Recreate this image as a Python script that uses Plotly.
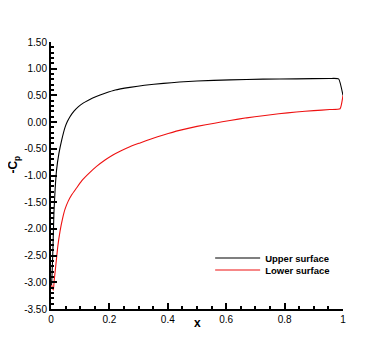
# %% ---- Requirements and constants
import plotly.graph_objects as go

# upper surface (black)
upper_x = [0.002, 0.004, 0.007, 0.010, 0.014, 0.019, 0.027, 0.037, 0.048, 0.056,
           0.065, 0.078, 0.094, 0.11, 0.128, 0.155, 0.185, 0.22, 0.27, 0.32,
           0.385, 0.44, 0.50, 0.613, 0.726, 0.84, 0.955, 0.985, 1.0]
upper_cp = [-3.05, -2.8, -2.3, -1.7, -1.27, -0.90, -0.59, -0.33, -0.10, 0.01,
            0.10, 0.20, 0.29, 0.355, 0.41, 0.48, 0.54, 0.60, 0.65, 0.69,
            0.725, 0.75, 0.77, 0.79, 0.805, 0.81, 0.817, 0.81, 0.50]

# lower surface (red)
lower_x = [0.002, 0.008, 0.011, 0.016, 0.023, 0.031, 0.039, 0.048, 0.059, 0.071,
           0.088, 0.105, 0.128, 0.156, 0.185, 0.212, 0.24, 0.27, 0.305, 0.345,
           0.385, 0.44, 0.50, 0.56, 0.613, 0.67, 0.726, 0.78, 0.84, 0.90,
           0.955, 0.99, 1.0]
lower_cp = [-3.05, -3.15, -2.96, -2.71, -2.34, -2.04, -1.82, -1.63, -1.48, -1.36,
            -1.23, -1.10, -0.97, -0.83, -0.71, -0.615, -0.535, -0.46, -0.39, -0.31,
            -0.24, -0.155, -0.08, -0.02, 0.03, 0.08, 0.12, 0.155, 0.19, 0.215,
            0.235, 0.25, 0.50]

y_ticks = [1.5, 1.0, 0.5, 0.0, -0.5, -1.0, -1.5, -2.0, -2.5, -3.0, -3.5]
x_ticks = [0, 0.2, 0.4, 0.6, 0.8, 1]
x_labels = ["0", "0.2", "0.4", "0.6", "0.8", "1"]

FONT = "Liberation Sans, Arial, Helvetica, sans-serif"

# %% ---- Figure
fig = go.Figure()
fig.add_trace(go.Scatter(x=upper_x, y=upper_cp, mode="lines", name="<b>Upper surface</b>",
                         line=dict(color="black", width=1.1, shape="spline", smoothing=0.4),
                         legend="legend", showlegend=True))
fig.add_trace(go.Scatter(x=lower_x, y=lower_cp, mode="lines", name="<b>Lower surface</b>",
                         line=dict(color="#ee1111", width=1.1, shape="spline", smoothing=0.4),
                         legend="legend2", showlegend=True))

axis_common = dict(showgrid=False, zeroline=False, showline=True, linecolor="black",
                   linewidth=2, ticks="inside", ticklen=6, tickwidth=1.5, tickcolor="black",
                   tickfont=dict(family=FONT, size=10, color="black"), automargin=False)

fig.update_xaxes(range=[0, 1], tickvals=x_ticks, ticktext=x_labels,
                 minor=dict(dtick=0.05, tick0=0, ticks="inside", ticklen=3, tickcolor="black"),
                 **axis_common)
fig.update_yaxes(range=[-3.5, 1.5], tickvals=y_ticks,
                 ticktext=[f"{v:.2f}" for v in y_ticks],
                 minor=dict(dtick=0.1, tick0=0, ticks="inside", ticklen=3, tickcolor="black"),
                 **axis_common)

legend_common = dict(x=0.545, xanchor="left", yanchor="middle", bgcolor="rgba(0,0,0,0)",
                     visible=True, itemwidth=45,
                     font=dict(family=FONT, size=9.5, color="black"))
fig.update_layout(
    width=390, height=347,
    margin=dict(l=43, r=55, t=34, b=46),
    plot_bgcolor="white", paper_bgcolor="white",
    showlegend=True,
    legend=dict(y=0.191, **legend_common),
    legend2=dict(y=0.146, **legend_common),
    annotations=[
        dict(text="<b>-C<sub>p</sub></b>", x=-0.125, y=0.539, xref="paper", yref="paper",
             xanchor="center", yanchor="middle", textangle=-90, showarrow=False,
             font=dict(family=FONT, size=12, color="black")),
        dict(text="<b>x</b>", x=0.5, y=-0.052, xref="paper", yref="paper",
             xanchor="center", yanchor="middle", showarrow=False,
             font=dict(family=FONT, size=12, color="black")),
    ],
)

fig.write_html("out.html")
